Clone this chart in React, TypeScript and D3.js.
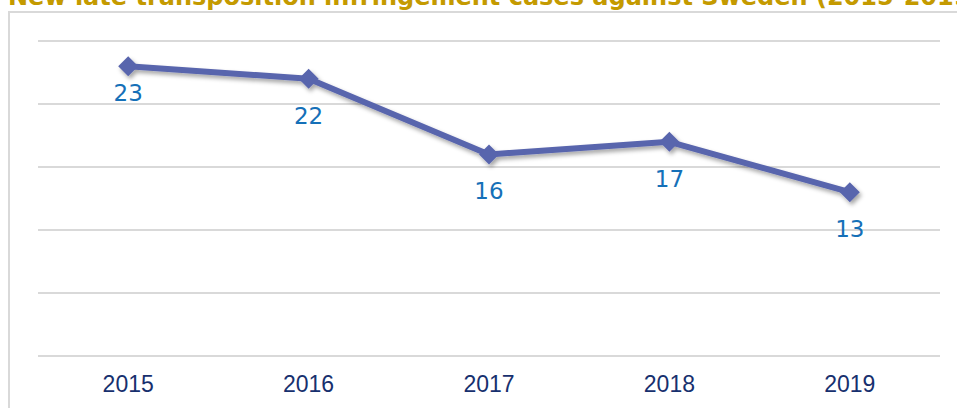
import React from "react";
import * as d3 from "d3";

const title = "New late transposition infringement cases against Sweden (2015-2019)";
const years = ["2015", "2016", "2017", "2018", "2019"];
const cases = [23, 22, 16, 17, 13];
const yTicks = [0, 5, 10, 15, 20, 25];

const W = 957;
const H = 408;
const plot = { left: 38, right: 940, top: 41, bottom: 356 };
const labelDy = [27, 37, 37, 37, 37];

export default function App() {
  const x = d3.scaleBand<string>().domain(years).range([plot.left, plot.right]);
  const y = d3.scaleLinear().domain([0, 25]).range([plot.bottom, plot.top]);
  const cx = (d: string) => (x(d) as number) + x.bandwidth() / 2;
  const line = d3
    .line<number>()
    .x((_, i) => cx(years[i]))
    .y((d) => y(d));
  const diamond = "M0,-10L10,0L0,10L-10,0Z";

  return (
    <svg
      width={W}
      height={H}
      style={{ position: "absolute", left: 0, top: 0, background: "#fff" }}
    >
      <defs>
        <filter id="sh" x="-10%" y="-20%" width="120%" height="160%">
          <feDropShadow dx="2" dy="3" stdDeviation="2" floodColor="#000" floodOpacity="0.35" />
        </filter>
      </defs>
      <text
        x={8}
        y={5}
        fill="#c49a00"
        fontFamily="'DejaVu Sans', Verdana, sans-serif"
        fontWeight="bold"
        fontSize={24}
      >
        {title}
      </text>
      <rect x={9} y={12} width={1000} height={500} fill="none" stroke="#d9d9d9" strokeWidth={2} />
      {yTicks.map((t) => (
        <line
          key={t}
          x1={plot.left}
          x2={plot.right}
          y1={y(t)}
          y2={y(t)}
          stroke="#d9d9d9"
          strokeWidth={2}
        />
      ))}
      {years.map((yr) => (
        <text
          key={yr}
          x={cx(yr)}
          y={392}
          textAnchor="middle"
          fill="#17306e"
          fontFamily="'Liberation Sans', Arial, sans-serif"
          fontSize={23}
        >
          {yr}
        </text>
      ))}
      <g filter="url(#sh)">
        <path d={line(cases) || ""} fill="none" stroke="#5965ad" strokeWidth={6} strokeLinejoin="round" />
        {cases.map((v, i) => (
          <path key={i} d={diamond} transform={`translate(${cx(years[i])},${y(v)})`} fill="#5965ad" />
        ))}
      </g>
      {cases.map((v, i) => (
        <text
          key={i}
          x={cx(years[i])}
          y={y(v) + labelDy[i]}
          dy="0.35em"
          textAnchor="middle"
          fill="#1570b8"
          fontFamily="'DejaVu Sans', Verdana, sans-serif"
          fontSize={23}
        >
          {v}
        </text>
      ))}
    </svg>
  );
}
